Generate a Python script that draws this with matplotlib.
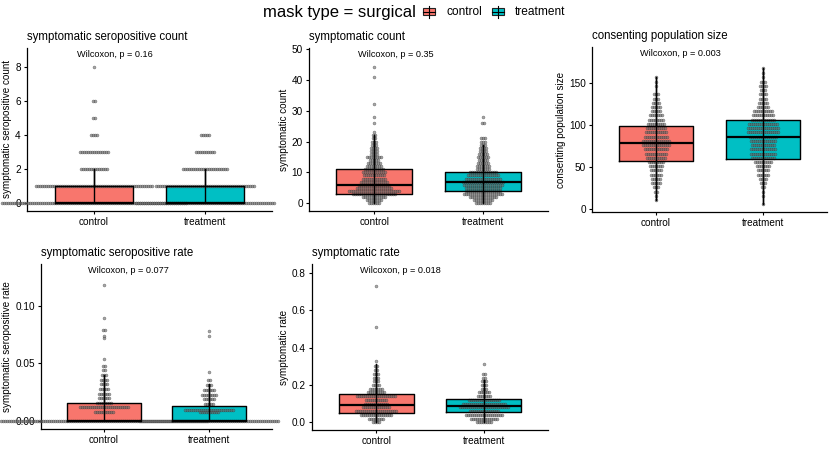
import numpy as np
import matplotlib
matplotlib.use("Agg")
import matplotlib.pyplot as plt
from matplotlib.patches import Rectangle
from matplotlib.lines import Line2D

plt.rcParams['font.family'] = ['Liberation Sans', 'DejaVu Sans']

W, H = 830, 461

groups = ["control", "treatment"]
colors = ["#F8766D", "#00BFC4"]

# === data: dot rows (value, number of stacked dots) ===
ssc_ctrl_vals = [0, 1, 2, 3, 4, 5, 6, 8]
ssc_ctrl_n = [93, 59, 14, 15, 4, 2, 2, 1]
ssc_trt_vals = [0, 1, 2, 3, 4]
ssc_trt_n = [70, 50, 23, 10, 5]

sc_ctrl_vals = [0, 1, 2, 3, 4, 5, 6, 7, 8, 9, 10, 11, 12, 13, 14, 15, 16, 17, 18,
                19, 20, 21, 22, 23, 26, 28, 32, 41, 44]
sc_ctrl_n = [6, 8, 12, 22, 26, 18, 16, 14, 12, 11, 12, 10, 8, 7, 5, 8, 4, 4, 4,
             3, 3, 2, 2, 1, 1, 1, 1, 1, 1]
sc_trt_vals = [0, 1, 2, 3, 4, 5, 6, 7, 8, 9, 10, 11, 12, 13, 14, 15, 16, 17, 18,
               19, 20, 21, 26, 28]
sc_trt_n = [8, 10, 14, 20, 18, 18, 20, 21, 18, 16, 14, 7, 7, 6, 5, 6, 5, 4, 4,
            3, 3, 3, 2, 1]

cp_ctrl_vals = [11, 16, 21, 26, 31, 36, 41, 46, 51, 56, 61, 66, 71, 76, 81, 86,
                91, 96, 101, 106, 111, 116, 121, 126, 131, 136, 146, 151, 156]
cp_ctrl_n = [1, 1, 2, 3, 5, 5, 6, 6, 7, 8, 10, 11, 12, 14, 14, 12,
             11, 10, 9, 8, 7, 5, 5, 4, 3, 3, 1, 1, 1]
cp_trt_vals = [6, 16, 21, 26, 31, 36, 41, 46, 51, 56, 61, 66, 71, 76, 81, 86, 91,
               96, 101, 106, 111, 116, 121, 126, 131, 136, 141, 146, 151, 156, 161, 167]
cp_trt_n = [1, 1, 1, 2, 3, 4, 6, 6, 7, 9, 12, 13, 13, 12, 13, 14, 16,
            16, 15, 12, 11, 10, 6, 5, 4, 4, 3, 4, 3, 1, 1, 1]

ssr_ctrl_vals = [0, 0.008, 0.012, 0.016, 0.020, 0.024, 0.028, 0.032, 0.036, 0.040,
                 0.044, 0.048, 0.054, 0.072, 0.074, 0.079, 0.089, 0.118]
ssr_ctrl_n = [104, 10, 25, 8, 6, 6, 5, 4, 4, 3, 2, 2, 1, 1, 1, 2, 1, 1]
ssr_trt_vals = [0, 0.008, 0.010, 0.015, 0.019, 0.023, 0.027, 0.031, 0.036, 0.043,
                0.074, 0.078]
ssr_trt_n = [70, 10, 25, 5, 6, 8, 6, 3, 2, 1, 1, 1]

sr_ctrl_vals = [0.0, 0.02, 0.04, 0.06, 0.08, 0.10, 0.12, 0.14, 0.16, 0.18, 0.20,
                0.22, 0.24, 0.26, 0.28, 0.30, 0.33, 0.51, 0.73]
sr_ctrl_n = [4, 8, 16, 21, 14, 12, 11, 20, 9, 7, 4, 3, 3, 3, 2, 2, 1, 1, 1]
sr_trt_vals = [0.0, 0.02, 0.04, 0.06, 0.08, 0.10, 0.12, 0.14, 0.16, 0.18, 0.20,
               0.22, 0.24, 0.26, 0.31]
sr_trt_n = [8, 14, 19, 15, 25, 22, 16, 7, 6, 3, 3, 3, 2, 2, 1]

# box stats: whislo, q1, median, q3, whishi (control, treatment)
ssc_box = [(0, 0, 0, 1, 2), (0, 0, 0, 1, 2)]
sc_box = [(0, 3, 6, 11, 22), (0, 4, 7, 10, 19)]
cp_box = [(11, 57, 78, 98, 156), (6, 59, 85, 106, 167)]
ssr_box = [(0, 0, 0, 0.016, 0.040), (0, 0, 0, 0.013, 0.032)]
sr_box = [(0, 0.048, 0.095, 0.154, 0.31), (0, 0.057, 0.087, 0.123, 0.225)]

p_values = ["0.16", "0.35", "0.003", "0.077", "0.018"]
titles = ["symptomatic seropositive count", "symptomatic count",
          "consenting population size", "symptomatic seropositive rate",
          "symptomatic rate"]


def px_rect(left, top, right, bottom):
    return [left / W, 1 - bottom / H, (right - left) / W, (bottom - top) / H]


fig = plt.figure(figsize=(W / 100, H / 100), dpi=100)


def draw_panel(rect, title, p, ylim, yticks, yticklabels, boxes, dots):
    ax = fig.add_axes(px_rect(*rect))
    ax.set_xlim(0.4, 2.6)
    ax.set_ylim(*ylim)
    pos = [1, 2]
    stats = [dict(whislo=b[0], q1=b[1], med=b[2], q3=b[3], whishi=b[4]) for b in boxes]

    # box fill only
    bp = ax.bxp(stats, positions=pos, widths=0.7, patch_artist=True,
                showfliers=False, showcaps=False, zorder=2,
                boxprops=dict(linewidth=0), whiskerprops=dict(linewidth=0),
                medianprops=dict(linewidth=0))
    for patch, c in zip(bp['boxes'], colors):
        patch.set_facecolor(c)
        patch.set_edgecolor('none')

    # stacked dots, centred on each group
    w_px = rect[2] - rect[0]
    dx = 2.0 / w_px * 2.2
    for i, (vals, ns) in enumerate(dots):
        xs, ys = [], []
        for v, n in zip(vals, ns):
            off = (np.arange(n) - (n - 1) / 2) * dx
            xs.extend(pos[i] + off)
            ys.extend([v] * n)
        ax.scatter(xs, ys, s=4.5, c='#6e6e6e', alpha=0.6, edgecolors='#333333',
                   linewidths=0.35, zorder=3, clip_on=False)

    # outlines, whiskers, medians on top
    ax.bxp(stats, positions=pos, widths=0.7, patch_artist=False,
           showfliers=False, showcaps=False, zorder=4,
           boxprops=dict(color='black', linewidth=1.0),
           whiskerprops=dict(color='black', linewidth=1.0),
           medianprops=dict(color='black', linewidth=1.6))
    ax.vlines(pos, [b[0] for b in boxes], [b[4] for b in boxes],
              color='black', linewidth=1.0, zorder=4)

    ax.set_xticks(pos)
    ax.set_xticklabels(groups)
    ax.set_yticks(yticks)
    ax.set_yticklabels(yticklabels)
    ax.tick_params(labelsize=7.2, length=2.5, width=0.8, pad=2, colors='black')
    for s in ['top', 'right']:
        ax.spines[s].set_visible(False)
    for s in ['left', 'bottom']:
        ax.spines[s].set_linewidth(0.9)
    ax.set_title(title, loc='left', fontsize=8.3, pad=6)
    ax.set_ylabel(title, fontsize=7.1, labelpad=2)
    wy = ylim[0] + 0.962 * (ylim[1] - ylim[0])
    ax.text(0.85, wy, "Wilcoxon, p = " + p, fontsize=6.6, ha='left', va='center')
    return ax


panels = [
    ((27, 48, 272, 211), (-0.47, 9.1), [0, 2, 4, 6, 8], ["0", "2", "4", "6", "8"],
     ssc_box, [(ssc_ctrl_vals, ssc_ctrl_n), (ssc_trt_vals, ssc_trt_n)]),
    ((309, 48, 548, 211), (-2.5, 50.3), [0, 10, 20, 30, 40, 50],
     ["0", "10", "20", "30", "40", "50"],
     sc_box, [(sc_ctrl_vals, sc_ctrl_n), (sc_trt_vals, sc_trt_n)]),
    ((592, 47, 827, 212), (-3.2, 192), [0, 50, 100, 150], ["0", "50", "100", "150"],
     cp_box, [(cp_ctrl_vals, cp_ctrl_n), (cp_trt_vals, cp_trt_n)]),
    ((41, 264, 272, 429), (-0.0067, 0.136), [0, 0.05, 0.10], ["0.00", "0.05", "0.10"],
     ssr_box, [(ssr_ctrl_vals, ssr_ctrl_n), (ssr_trt_vals, ssr_trt_n)]),
    ((312, 264, 548, 430), (-0.041, 0.848), [0, 0.2, 0.4, 0.6, 0.8],
     ["0.0", "0.2", "0.4", "0.6", "0.8"],
     sr_box, [(sr_ctrl_vals, sr_ctrl_n), (sr_trt_vals, sr_trt_n)]),
]

for k, (rect, ylim, yt, ytl, boxes, dots) in enumerate(panels):
    draw_panel(rect, titles[k], p_values[k], ylim, yt, ytl, boxes, dots)

# === legend ===
fig.text(263 / W, 1 - 12 / H, "mask type = surgical", fontsize=12, ha='left', va='center')
key_x = [423, 492]
for i, (g, c) in enumerate(zip(groups, colors)):
    x0 = key_x[i]
    fig.add_artist(Line2D([(x0 + 6) / W] * 2, [1 - 6 / H, 1 - 18 / H], color='black',
                          linewidth=0.8))
    fig.add_artist(Rectangle((x0 / W, 1 - 15.5 / H), 12 / W, 7 / H, facecolor=c,
                             edgecolor='#222222', linewidth=0.8))
    fig.add_artist(Line2D([x0 / W, (x0 + 12) / W], [1 - 12 / H] * 2, color='black',
                          linewidth=0.8))
    fig.text((x0 + 23) / W, 1 - 12 / H, g, fontsize=8.6, ha='left', va='center')

fig.savefig("out.png", dpi=100)
